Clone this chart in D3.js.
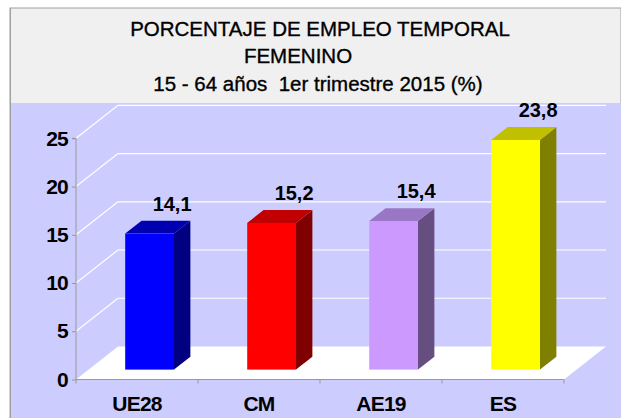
<!DOCTYPE html>
<html>
<head>
<meta charset="utf-8">
<script src="https://cdn.jsdelivr.net/npm/d3@7"></script>
<style>
  html, body { margin: 0; padding: 0; background: #ffffff; }
  svg { display: block; font-family: "Liberation Sans", Arial, sans-serif; }
</style>
</head>
<body>
<svg id="chart" width="621" height="418"></svg>
<script>
// ---- data ----
const categories = ["UE28", "CM", "AE19", "ES"];
const values = [14.1, 15.2, 15.4, 23.8];
const valueLabels = ["14,1", "15,2", "15,4", "23,8"];
const frontColors = ["#0000FF", "#FF0000", "#CC99FF", "#FFFF00"];
const topColors = ["#0000B0", "#C00000", "#9977C4", "#C0C000"];
const sideColors = ["#000080", "#800000", "#664F80", "#808000"];
const yTicks = [0, 5, 10, 15, 20, 25];
const titleLines = ["PORCENTAJE DE EMPLEO TEMPORAL", "FEMENINO", "15 - 64 años  1er trimestre 2015 (%)"];

// ---- layout ----
const svg = d3.select("#chart");
const W = 621, H = 418;
const plotLeft = 76, plotRight = 564;
const y0px = 379.5, y25px = 138.3;
const DX = 42, DY = -33;      // full depth offset
const zFront = 0.3, zBack = 0.69;

const x = d3.scaleBand().domain(categories).range([plotLeft, plotRight])
  .paddingInner(0.6).paddingOuter(0.3);
const y = d3.scaleLinear().domain([0, 25]).range([y0px, y25px]);

// frame & backgrounds
svg.append("rect").attr("x", 10).attr("y", 8).attr("width", W - 10).attr("height", H - 8)
  .attr("fill", "#F0F0F0").attr("stroke", "#A0A0A0").attr("stroke-width", 1);
svg.append("rect").attr("x", 10.5).attr("y", 103).attr("width", W - 10.5).attr("height", H - 103)
  .attr("fill", "#CCCCFF");
svg.append("line").attr("x1", 10.5).attr("x2", 10.5).attr("y1", 8).attr("y2", H)
  .attr("stroke", "#A0A0A0");

// title
const titleX = [320, 298, 318];
const titleY = [36, 63, 91];
svg.append("g").selectAll("text").data(titleLines).join("text")
  .attr("x", (d, i) => titleX[i]).attr("y", (d, i) => titleY[i])
  .attr("text-anchor", "middle").attr("font-size", "20.5px")
  .style("white-space", "pre").attr("fill", "#000")
  .attr("stroke", "#000").attr("stroke-width", 0.35)
  .text(d => d);

// gridlines (back wall + left wall)
const grid = svg.append("g");
yTicks.filter(v => v > 0).forEach(v => {
  grid.append("line")
    .attr("x1", plotLeft + DX).attr("x2", plotRight + DX)
    .attr("y1", y(v) + DY).attr("y2", y(v) + DY)
    .attr("stroke", "#FFFFFF").attr("stroke-width", 1.2);
  grid.append("line")
    .attr("x1", plotLeft).attr("x2", plotLeft + DX)
    .attr("y1", y(v)).attr("y2", y(v) + DY)
    .attr("stroke", "#FFFFFF").attr("stroke-width", 1.2);
});

// floor
svg.append("polygon")
  .attr("points", [[plotLeft, y(0)], [plotRight, y(0)], [plotRight + DX, y(0) + DY], [plotLeft + DX, y(0) + DY]].map(p => p.join(",")).join(" "))
  .attr("fill", "#FFFFFF");

// bars
const fdx = DX * zFront, fdy = DY * zFront;
const bdx = DX * (zBack - zFront), bdy = DY * (zBack - zFront);
const bars = svg.append("g");
categories.forEach((c, i) => {
  const x0 = x(c) + fdx, x1 = x(c) + x.bandwidth() + fdx;
  const yt = y(values[i]) + fdy, yb = y(0) + fdy;
  const g = bars.append("g");
  g.append("polygon")
    .attr("points", [[x1, yb], [x1 + bdx, yb + bdy], [x1 + bdx, yt + bdy], [x1, yt]].map(p => p.join(",")).join(" "))
    .attr("fill", sideColors[i]);
  g.append("polygon")
    .attr("points", [[x0, yt], [x1, yt], [x1 + bdx, yt + bdy], [x0 + bdx, yt + bdy]].map(p => p.join(",")).join(" "))
    .attr("fill", topColors[i]);
  g.append("rect").attr("x", x0).attr("y", yt).attr("width", x1 - x0).attr("height", yb - yt)
    .attr("fill", frontColors[i]);
  g.append("text")
    .attr("x", (x0 + x1) / 2 + 22.5).attr("y", yt - 23)
    .attr("text-anchor", "middle").attr("font-size", "20px").attr("font-weight", "bold")
    .attr("fill", "#000").text(valueLabels[i]);
});

// y axis
const yAxis = svg.append("g").attr("transform", `translate(${plotLeft},0)`)
  .call(d3.axisLeft(y).tickValues(yTicks).tickSize(4).tickPadding(4).tickFormat(d3.format("d")));
yAxis.select(".domain").attr("stroke", "#999999").attr("d", `M-4,${y(25)}H0V${y(0)}`);
yAxis.selectAll(".tick line").attr("stroke", "#999999");
yAxis.selectAll(".tick text").attr("font-size", "21px").attr("font-weight", "bold")
  .attr("letter-spacing", "-0.8px")
  .attr("font-family", "Liberation Sans, Arial, sans-serif").attr("fill", "#000");

// x axis
const xAxis = svg.append("g").attr("transform", `translate(0,${y(0)})`)
  .call(d3.axisBottom(x).tickSize(0).tickPadding(17));
xAxis.select(".domain").attr("stroke", "#999999").attr("d", `M${plotLeft},0H${plotRight}`);
xAxis.selectAll(".tick text").attr("font-size", "21px").attr("font-weight", "bold")
  .attr("letter-spacing", "-0.8px")
  .attr("font-family", "Liberation Sans, Arial, sans-serif").attr("fill", "#000");
const step = x.step();
d3.range(categories.length + 1).forEach(k => {
  xAxis.append("line").attr("x1", plotLeft + k * step).attr("x2", plotLeft + k * step)
    .attr("y1", 0).attr("y2", 4).attr("stroke", "#999999");
});
</script>
</body>
</html>
